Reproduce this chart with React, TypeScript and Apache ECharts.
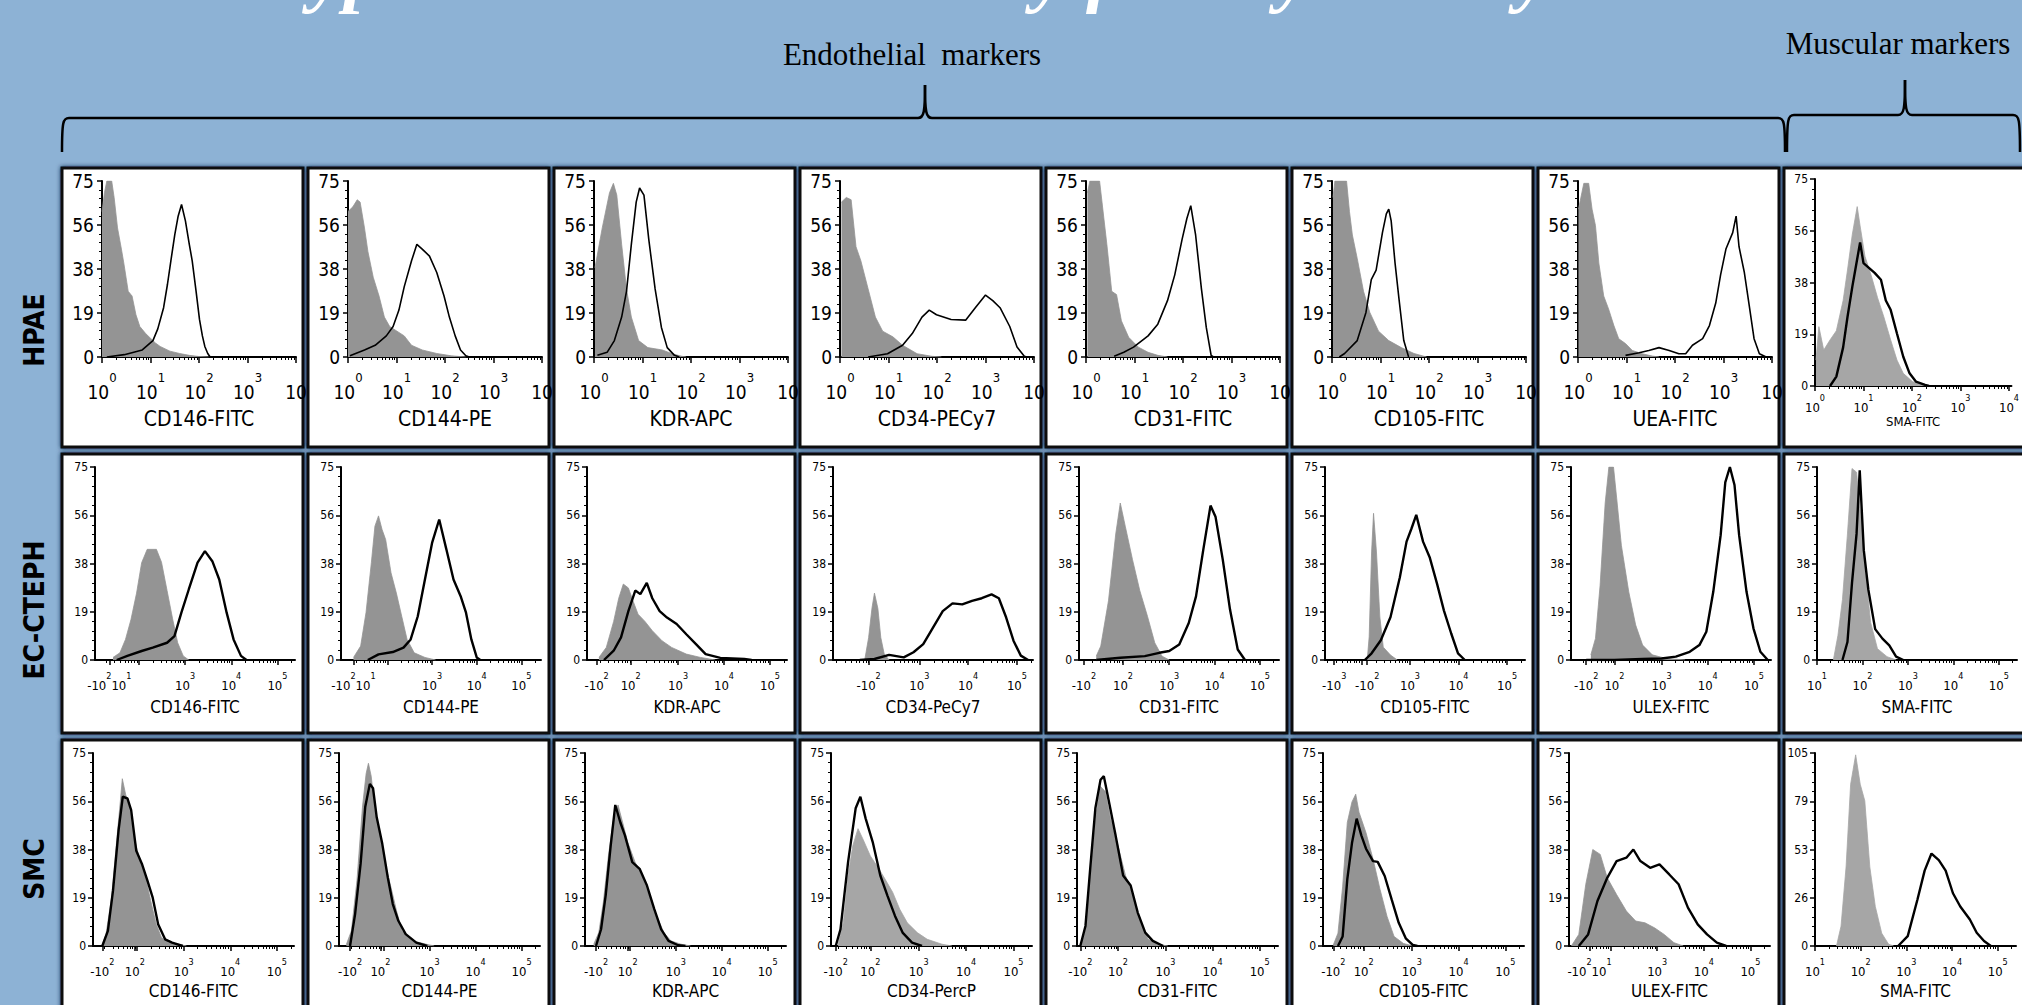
import React, { useEffect, useRef } from 'react';
import * as echarts from 'echarts';

// ---------------- texts ----------------
const figTitle = 'Phenotypic characterization by flow cytometry';
const rowNames = ['HPAE', 'EC-CTEPH', 'SMC'];
const groupEndo = 'Endothelial  markers';
const groupMusc = 'Muscular markers';

const titlesHPAE = ['CD146-FITC', 'CD144-PE', 'KDR-APC', 'CD34-PECy7', 'CD31-FITC', 'CD105-FITC', 'UEA-FITC', 'SMA-FITC'];
const titlesCTEPH = ['CD146-FITC', 'CD144-PE', 'KDR-APC', 'CD34-PeCy7', 'CD31-FITC', 'CD105-FITC', 'ULEX-FITC', 'SMA-FITC'];
const titlesSMC = ['CD146-FITC', 'CD144-PE', 'KDR-APC', 'CD34-PercP', 'CD31-FITC', 'CD105-FITC', 'ULEX-FITC', 'SMA-FITC'];

// ---------------- axes ----------------
// [position (display decades), base, exponent, base, exponent, ...]
type Lab = [number, ...string[]];
const labLog0: Lab[] = [[0, '10', '0'], [1, '10', '1'], [2, '10', '2'], [3, '10', '3'], [4, '10', '']];
const labLog0Sma: Lab[] = [[0, '10', '0'], [1, '10', '1'], [2, '10', '2'], [3, '10', '3'], [4, '10', '4']];
const labLog1: Lab[] = [[1, '10', '1'], [2, '10', '2'], [3, '10', '3'], [4, '10', '4'], [5, '10', '5']];
const labHigh: Lab[] = [[3, '10', '3'], [4, '10', '4'], [5, '10', '5']];

const labelsHPAE: Lab[][] = [labLog0, labLog0, labLog0, labLog0, labLog0, labLog0, labLog0, labLog0Sma];
const labelsCTEPH: Lab[][] = [
  [[1.36, '-10', '2', '10', '1'], ...labHigh],
  [[1.24, '-10', '2', '10', '1'], ...labHigh],
  [[1.23, '-10', '2'], [1.97, '10', '2'], ...labHigh],
  [[1.96, '-10', '2'], ...labHigh],
  [[1.12, '-10', '2'], [1.98, '10', '2'], ...labHigh],
  [[1.44, '-10', '3'], [2.12, '-10', '2'], ...labHigh],
  [[1.37, '-10', '2'], [1.98, '10', '2'], ...labHigh],
  labLog1,
];
const labelsSMC: Lab[][] = [
  [[1.25, '-10', '2'], [1.95, '10', '2'], ...labHigh],
  [[1.27, '-10', '2'], [1.93, '10', '2'], ...labHigh],
  [[1.26, '-10', '2'], [1.95, '10', '2'], ...labHigh],
  [[1.25, '-10', '2'], [1.98, '10', '2'], ...labHigh],
  [[1.19, '-10', '2'], [1.99, '10', '2'], ...labHigh],
  [[1.32, '-10', '2'], [1.97, '10', '2'], ...labHigh],
  [[1.55, '-10', '2', '10', '1'], ...labHigh],
  labLog1,
];

const xRangeHPAE = [[0, 4], [0, 4], [0, 4], [0, 4], [0, 4], [0, 4], [0, 4], [0, 4.05]];
const xRangeCTEPH = [[1.05, 5.38], [0.96, 5.44], [1.02, 5.37], [1.23, 5.33], [1.01, 5.42], [1.25, 5.37], [1.04, 5.37], [1, 5.4]];
const xRangeSMC = [[1.05, 5.37], [1.03, 5.4], [1.02, 5.4], [1.15, 5.39], [1.12, 5.39], [1.1, 5.4], [1.11, 5.42], [1, 5.4]];

const yMaxHPAE = [75, 75, 75, 75, 75, 75, 75, 75];
const yMaxCTEPH = [75, 75, 75, 75, 75, 75, 75, 75];
const yMaxSMC = [75, 75, 75, 75, 75, 75, 75, 105];

// ---------------- histograms: [display decade, count] ----------------
type P = [number, number];
// HPAE — grey = isotype control, black = marker
const gH1: P[] = [[0, 62], [0.05, 70], [0.1, 75], [0.2, 75], [0.25, 68], [0.32, 55], [0.4, 46], [0.45, 40], [0.54, 28], [0.62, 26], [0.7, 18], [0.78, 13], [0.9, 10], [1.0, 8], [1.1, 6], [1.2, 4.5], [1.4, 2.5], [1.6, 1.5], [1.8, 0.7], [2.0, 0.2], [2.2, 0]];
const bH1: P[] = [[0.1, 0], [0.46, 1], [0.83, 3], [1.05, 7], [1.15, 12], [1.27, 21], [1.35, 31], [1.42, 41], [1.5, 52], [1.57, 60], [1.64, 65], [1.72, 58], [1.8, 48], [1.86, 41], [1.94, 28], [2.01, 16], [2.07, 9], [2.12, 4.5], [2.18, 1.5], [2.23, 0]];
const gH2: P[] = [[0, 62], [0.1, 64], [0.19, 67], [0.25, 66], [0.34, 55], [0.41, 45], [0.52, 34], [0.64, 26], [0.75, 17], [0.86, 13], [1.01, 11], [1.16, 9], [1.31, 5], [1.53, 3], [1.83, 1.5], [2.13, 0.5], [2.43, 0]];
const bH2: P[] = [[0.04, 0.5], [0.34, 3], [0.56, 5], [0.79, 9], [0.93, 13], [1.05, 20], [1.16, 30], [1.31, 41], [1.42, 48], [1.53, 46], [1.68, 43], [1.83, 36], [1.98, 26], [2.09, 17], [2.21, 9], [2.32, 3], [2.43, 0.5], [2.5, 0]];
const gH3: P[] = [[0.02, 38], [0.17, 55], [0.32, 70], [0.4, 74], [0.47, 69], [0.57, 48], [0.67, 29], [0.77, 17], [0.92, 7], [1.11, 4], [1.41, 3], [1.61, 1.4], [1.81, 0.3], [1.9, 0]];
const bH3: P[] = [[0.07, 0.7], [0.27, 2], [0.42, 7], [0.57, 17], [0.67, 28], [0.77, 48], [0.87, 66], [0.94, 72], [1.03, 69], [1.13, 50], [1.26, 29], [1.39, 12.6], [1.51, 4], [1.66, 0.7], [1.76, 0]];
const gH4: P[] = [[0.03, 66], [0.13, 68], [0.23, 67], [0.33, 47], [0.43, 41], [0.58, 29], [0.73, 17], [0.88, 11], [1.09, 8.6], [1.29, 5], [1.59, 1.4], [1.89, 0.3], [2.09, 0]];
const bH4: P[] = [[0.58, 0], [0.98, 1.4], [1.29, 5], [1.49, 10], [1.69, 17], [1.84, 20], [1.99, 18], [2.29, 16], [2.59, 15.7], [2.79, 21], [3.0, 26.4], [3.15, 24], [3.3, 21], [3.5, 13], [3.65, 4.3], [3.8, 0.3], [3.85, 0]];
const gH5: P[] = [[0.03, 70], [0.08, 75], [0.28, 75], [0.33, 66], [0.43, 48], [0.53, 28], [0.63, 26.6], [0.73, 15.4], [0.88, 8.4], [1.08, 4.2], [1.28, 2], [1.48, 0.7], [1.68, 0]];
const bH5: P[] = [[0.58, 0.3], [0.78, 2], [0.98, 4.2], [1.28, 9], [1.48, 14], [1.68, 24], [1.83, 35], [1.98, 50], [2.08, 59], [2.16, 64.5], [2.26, 52], [2.38, 29], [2.48, 12.6], [2.58, 0.7], [2.63, 0]];
const gH6: P[] = [[0.02, 68], [0.06, 75], [0.3, 75], [0.36, 62], [0.42, 52], [0.52, 42], [0.65, 28], [0.78, 19], [0.96, 11], [1.17, 7], [1.43, 4], [1.69, 1.5], [1.95, 0]];
const bH6: P[] = [[0.15, 0], [0.26, 1.5], [0.52, 7], [0.7, 19], [0.81, 33], [0.91, 37], [1.04, 53], [1.12, 61], [1.17, 63], [1.22, 58], [1.3, 40], [1.38, 25], [1.48, 7], [1.58, 0]];
const gH7: P[] = [[0.01, 63], [0.12, 74], [0.22, 74], [0.29, 63], [0.36, 56], [0.43, 40], [0.53, 26], [0.63, 20.5], [0.74, 13.4], [0.84, 7.8], [0.98, 5.7], [1.12, 2.8], [1.32, 1.4], [1.53, 0.4], [1.67, 0]];
const bH7: P[] = [[0.98, 0.7], [1.26, 1.8], [1.46, 2.8], [1.67, 4], [1.88, 2.8], [2.08, 1.4], [2.22, 1.4], [2.36, 5], [2.57, 7.8], [2.71, 13.4], [2.84, 23], [2.94, 35], [3.05, 46], [3.19, 53], [3.26, 60], [3.32, 47], [3.43, 36], [3.53, 22], [3.63, 7.8], [3.74, 1.4], [3.88, 0]];
const gH8: P[] = [[0.02, 9.4], [0.08, 21.5], [0.18, 13], [0.31, 16.7], [0.44, 20], [0.58, 31], [0.67, 42], [0.77, 55], [0.87, 65], [0.93, 58], [1.03, 47], [1.16, 40], [1.29, 32], [1.42, 25], [1.56, 16.7], [1.69, 9.4], [1.82, 4.6], [2.01, 1.6], [2.21, 0.4], [2.34, 0]];
const bH8: P[] = [[0.31, 0], [0.44, 3.4], [0.58, 14], [0.67, 25], [0.77, 36], [0.87, 46], [0.93, 52], [1.0, 44.5], [1.1, 43], [1.23, 41], [1.36, 38.5], [1.46, 31], [1.56, 27.6], [1.69, 19], [1.82, 10.6], [1.95, 4.6], [2.08, 1.6], [2.27, 0.4], [2.35, 0]];

// EC-CTEPH
const gC1: P[] = [[1.44, 1], [1.59, 2.8], [1.71, 8], [1.83, 15.8], [1.95, 26], [2.06, 37.8], [2.18, 43], [2.38, 43], [2.49, 38], [2.61, 27], [2.73, 16], [2.84, 6.7], [2.96, 1.6], [3.08, 0]];
const bC1: P[] = [[1.52, 0], [1.75, 1.6], [2.06, 3.5], [2.3, 4.8], [2.61, 6.7], [2.77, 9.3], [2.92, 18.4], [3.08, 27.4], [3.27, 37.8], [3.43, 42.3], [3.59, 38.4], [3.74, 31.3], [3.9, 18.4], [4.05, 8], [4.21, 1.6], [4.33, 0]];
const gC2: P[] = [[1.24, 1], [1.4, 5.4], [1.52, 18.4], [1.64, 37.8], [1.72, 52], [1.8, 56], [1.88, 50.7], [1.96, 46.8], [2.08, 33.9], [2.2, 26], [2.32, 17], [2.44, 8], [2.6, 2.8], [2.84, 1], [3.08, 0]];
const bC2: P[] = [[1.56, 0], [1.8, 2.2], [2.12, 3.1], [2.36, 4.8], [2.52, 8], [2.68, 17], [2.84, 31.3], [3.0, 45.5], [3.16, 54.6], [3.32, 43], [3.48, 31.3], [3.64, 24.8], [3.76, 18.4], [3.88, 8], [4.0, 1], [4.08, 0]];
const gC3: P[] = [[1.28, 1], [1.44, 4.9], [1.6, 15], [1.71, 24], [1.81, 29.5], [1.92, 28], [2.02, 23], [2.13, 17.8], [2.28, 15], [2.44, 11.4], [2.65, 7.5], [2.86, 4.9], [3.18, 2.3], [3.49, 1], [3.81, 0]];
const bC3: P[] = [[1.39, 0], [1.6, 3.6], [1.76, 8.8], [1.92, 19], [2.07, 27], [2.18, 25.6], [2.32, 30], [2.44, 24], [2.6, 19], [2.76, 16.5], [2.97, 14], [3.18, 10], [3.39, 6.2], [3.6, 2.3], [3.92, 0.8], [4.44, 0.4], [4.6, 0]];
const gC4: P[] = [[1.88, 0], [1.96, 8.7], [2.03, 20.3], [2.08, 26], [2.15, 20], [2.21, 8.7], [2.28, 2.3], [2.38, 0]];
const bC4: P[] = [[1.78, 0], [2.08, 0.4], [2.38, 2], [2.68, 1], [2.88, 3], [3.08, 6.2], [3.28, 12.6], [3.48, 19], [3.68, 22], [3.88, 21.6], [4.08, 23], [4.28, 24], [4.48, 25.5], [4.63, 24], [4.78, 16.5], [4.93, 7.5], [5.08, 1.7], [5.23, 0]];
const gC5: P[] = [[1.39, 1.5], [1.49, 5.4], [1.66, 23], [1.82, 49], [1.92, 61], [2.03, 52], [2.19, 39], [2.35, 27], [2.52, 17], [2.68, 6.7], [2.84, 1.5], [3.0, 0]];
const bC5: P[] = [[1.39, 0], [1.92, 0.9], [2.46, 1.5], [2.78, 2.8], [3.0, 3.5], [3.22, 6], [3.43, 14.4], [3.59, 24.7], [3.75, 42.8], [3.91, 60], [4.02, 55.7], [4.18, 39], [4.34, 19.6], [4.51, 4.1], [4.67, 0]];
const gC6: P[] = [[2.12, 0], [2.16, 9], [2.21, 42], [2.25, 57], [2.31, 42], [2.38, 16.7], [2.45, 5], [2.6, 1.9], [2.74, 0]];
const bC6: P[] = [[2.07, 0], [2.21, 2.6], [2.4, 7.7], [2.6, 16.7], [2.79, 32], [2.93, 46], [3.03, 51], [3.13, 56.4], [3.27, 46], [3.41, 39.7], [3.56, 29.5], [3.7, 19.2], [3.85, 10.3], [3.99, 2.6], [4.13, 0]];
const gC7: P[] = [[1.47, 2], [1.57, 8.4], [1.67, 29], [1.78, 61], [1.86, 75], [1.96, 75], [2.03, 62.7], [2.13, 44.6], [2.29, 26.5], [2.44, 13.6], [2.59, 5.8], [2.8, 2], [3.1, 0.6], [3.51, 0]];
const bC7: P[] = [[1.37, 0], [1.98, 0], [2.59, 0.4], [3.0, 0.6], [3.31, 1.3], [3.61, 3.2], [3.82, 5.8], [3.97, 11], [4.12, 26.5], [4.28, 48.5], [4.38, 69], [4.48, 75], [4.58, 68], [4.68, 48.5], [4.84, 26.5], [4.99, 12.3], [5.14, 3.2], [5.3, 0]];
const gC8: P[] = [[1.36, 0], [1.46, 9.5], [1.56, 23.5], [1.67, 49], [1.77, 74.4], [1.87, 73], [1.97, 55], [2.08, 32], [2.18, 14.6], [2.33, 4.4], [2.54, 1.3], [2.74, 0]];
const bC8: P[] = [[1.56, 0], [1.67, 7], [1.77, 30], [1.87, 49], [1.94, 73.7], [2.03, 42.6], [2.13, 27.3], [2.28, 12], [2.44, 8.3], [2.59, 5.7], [2.74, 1.3], [2.9, 0]];

// SMC
const gS1: P[] = [[1.25, 0.6], [1.33, 4.6], [1.45, 19], [1.56, 41], [1.64, 56.7], [1.68, 65], [1.75, 59], [1.83, 54], [1.95, 41], [2.06, 33], [2.18, 26.7], [2.29, 17.6], [2.41, 8.5], [2.52, 3.3], [2.68, 1.3], [2.91, 0.6], [3.06, 0]];
const bS1: P[] = [[1.25, 0], [1.37, 5.9], [1.48, 21.5], [1.6, 45], [1.69, 58], [1.79, 57.4], [1.87, 52.8], [1.98, 37], [2.1, 32], [2.22, 25.4], [2.33, 19], [2.45, 8.5], [2.6, 2.6], [2.75, 1.3], [2.98, 0]];
const gS2: P[] = [[1.19, 0.6], [1.3, 5.9], [1.42, 25.4], [1.54, 54], [1.62, 67], [1.67, 71], [1.73, 66], [1.81, 52.8], [1.93, 42.4], [2.05, 30.7], [2.16, 22.8], [2.28, 13.7], [2.4, 5.9], [2.63, 2], [2.95, 0.6], [3.1, 0]];
const bS2: P[] = [[1.27, 0], [1.38, 12.4], [1.5, 32], [1.6, 54], [1.7, 63], [1.77, 61.3], [1.85, 50], [1.97, 39.8], [2.09, 26.7], [2.2, 16.3], [2.32, 9.8], [2.48, 4.6], [2.71, 1.3], [2.95, 0]];
const gS3: P[] = [[1.21, 0.7], [1.32, 5.2], [1.42, 17], [1.53, 35], [1.63, 48], [1.74, 54.8], [1.84, 48], [1.95, 40.4], [2.11, 32.6], [2.26, 27.4], [2.42, 19.6], [2.58, 11.7], [2.74, 5.2], [2.89, 2], [3.11, 0.7], [3.32, 0]];
const bS3: P[] = [[1.26, 0], [1.37, 6.5], [1.47, 19.6], [1.58, 39], [1.68, 54.8], [1.79, 48], [1.89, 43], [2.05, 32.6], [2.21, 30], [2.37, 23.5], [2.53, 14.3], [2.68, 6.5], [2.84, 2], [3.05, 0.3], [3.21, 0]];
const gS4: P[] = [[1.3, 0.7], [1.41, 9], [1.51, 27.4], [1.61, 39], [1.72, 45.6], [1.82, 41.7], [1.98, 35], [2.14, 30.6], [2.29, 26], [2.45, 20.9], [2.6, 14.3], [2.76, 9], [2.97, 5.2], [3.18, 2.6], [3.49, 0.7], [3.7, 0]];
const bS4: P[] = [[1.25, 0], [1.35, 6.5], [1.51, 32.6], [1.67, 53.5], [1.77, 58], [1.88, 49.6], [2.03, 40.4], [2.19, 27.4], [2.34, 19.6], [2.5, 11.7], [2.66, 5.2], [2.86, 1.3], [3.07, 0]];
const gS5: P[] = [[1.19, 0], [1.3, 6.5], [1.4, 27.4], [1.51, 49.6], [1.62, 62], [1.72, 60], [1.83, 49.6], [1.99, 39], [2.15, 27.4], [2.31, 19.6], [2.47, 9], [2.63, 2.6], [2.84, 0.7], [3.05, 0]];
const bS5: P[] = [[1.19, 0], [1.3, 7.8], [1.4, 30], [1.51, 53.5], [1.62, 64.6], [1.69, 66], [1.8, 56], [1.94, 43], [2.1, 27.4], [2.26, 23.5], [2.41, 13], [2.57, 5.2], [2.73, 2], [2.95, 0]];
const gS6: P[] = [[1.32, 0.4], [1.42, 5], [1.52, 23], [1.62, 48], [1.72, 56], [1.8, 59], [1.87, 52], [2.02, 44], [2.17, 33.8], [2.32, 22], [2.47, 11.5], [2.62, 3.7], [2.82, 1], [3.02, 0]];
const bS6: P[] = [[1.42, 0], [1.52, 3.7], [1.62, 26], [1.72, 40], [1.82, 49.5], [1.92, 43], [2.02, 37.8], [2.17, 33], [2.27, 32.7], [2.42, 27.2], [2.57, 18], [2.72, 9], [2.87, 3], [3.02, 0.4], [3.12, 0]];
const gS7: P[] = [[1.16, 0], [1.32, 4.5], [1.47, 24], [1.62, 37.5], [1.78, 35.6], [1.93, 26.5], [2.13, 20], [2.34, 13.6], [2.54, 9.7], [2.74, 9], [2.95, 7], [3.15, 4.5], [3.36, 1.3], [3.56, 0]];
const bS7: P[] = [[1.32, 0], [1.52, 4.5], [1.72, 17.5], [1.93, 26.5], [2.13, 33], [2.34, 34.3], [2.49, 37.5], [2.64, 33], [2.85, 30.4], [3.05, 31.7], [3.26, 27.8], [3.46, 24], [3.66, 14.9], [3.87, 8.4], [4.07, 4.5], [4.28, 1.3], [4.48, 0]];
const gS8: P[] = [[1.47, 0], [1.57, 10.8], [1.68, 43], [1.78, 88], [1.89, 104], [1.99, 88], [2.09, 79], [2.2, 43], [2.32, 21.5], [2.46, 7], [2.61, 1], [2.72, 0]];
const bS8: P[] = [[2.82, 0], [3.03, 5.4], [3.24, 25], [3.4, 41], [3.55, 50.3], [3.71, 46.7], [3.86, 41], [4.02, 28.7], [4.18, 21.5], [4.39, 14.4], [4.54, 7.2], [4.7, 2.7], [4.85, 0]];

const greyHPAE = [gH1, gH2, gH3, gH4, gH5, gH6, gH7, gH8];
const blackHPAE = [bH1, bH2, bH3, bH4, bH5, bH6, bH7, bH8];
const greyCTEPH = [gC1, gC2, gC3, gC4, gC5, gC6, gC7, gC8];
const blackCTEPH = [bC1, bC2, bC3, bC4, bC5, bC6, bC7, bC8];
const greySMC = [gS1, gS2, gS3, gS4, gS5, gS6, gS7, gS8];
const blackSMC = [bS1, bS2, bS3, bS4, bS5, bS6, bS7, bS8];

// ---------------- styling / layout ----------------
const BG = '#8db2d5';
const GREY = '#949494';
const GREY_LIGHT = '#a6a6a6';
const FONT = "'Liberation Sans Narrow','Arial Narrow','DejaVu Sans Condensed','Liberation Sans',Arial,sans-serif";
const SERIF = "'Liberation Serif','Times New Roman',serif";
const ROW_TOP = [168, 454, 740];
const PANEL_W = 241;
const PANEL_H = 279;
const colLeft = (c: number) => 62 + 246 * c;

function layout(r: number, c: number) {
  const L = colLeft(c);
  const T = ROW_TOP[r];
  if (r === 0 && c < 7) return { L, T, gl: L + 40, gr: L + 234, gt: T + 13, gb: T + 189, big: true };
  if (r === 0) return { L, T, gl: L + 31, gr: L + 237, gt: T + 11, gb: T + 218, big: false };
  if (r === 1) return { L, T, gl: L + 33, gr: L + 233, gt: T + 13, gb: T + 206, big: false };
  return { L, T, gl: L + 31, gr: L + 232, gt: T + 13, gb: T + 206, big: false };
}

function minorTicks(xmin: number, xmax: number, d0: number) {
  const out: number[] = [];
  for (let d = d0; d <= 5; d++) {
    for (let k = 2; k <= 9; k++) {
      const v = d + Math.log10(k);
      if (v > xmin + 0.01 && v < xmax - 0.01) out.push(v);
    }
  }
  return out;
}

function buildOption() {
  const grids: any[] = [];
  const xAxes: any[] = [];
  const yAxes: any[] = [];
  const series: any[] = [];
  const graphics: any[] = [];

  const titles = [titlesHPAE, titlesCTEPH, titlesSMC];
  const labels = [labelsHPAE, labelsCTEPH, labelsSMC];
  const ranges = [xRangeHPAE, xRangeCTEPH, xRangeSMC];
  const ymaxes = [yMaxHPAE, yMaxCTEPH, yMaxSMC];
  const greys = [greyHPAE, greyCTEPH, greySMC];
  const blacks = [blackHPAE, blackCTEPH, blackSMC];

  for (let r = 0; r < 3; r++) {
    for (let c = 0; c < 8; c++) {
      const i = r * 8 + c;
      const lay = layout(r, c);
      const big = lay.big;
      const smaTop = r === 0 && c === 7;
      graphics.push({
        type: 'rect', z: -10,
        shape: { x: lay.L, y: lay.T, width: PANEL_W, height: r === 2 ? 300 : PANEL_H },
        style: { fill: '#ffffff', stroke: '#0c0c0c', lineWidth: 3, shadowBlur: 4, shadowColor: 'rgba(15,35,70,0.9)' },
      });
      grids.push({ left: lay.gl, top: lay.gt, width: lay.gr - lay.gl, height: lay.gb - lay.gt });
      const [xmin, xmax] = ranges[r][c];
      const labs = labels[r][c];
      const labVals = labs.map((l) => l[0] as number);
      const majors = [...labVals];
      for (let d = Math.ceil(xmin); d <= Math.floor(xmax); d++) {
        if ((r === 0 || d >= 2) && !majors.some((m) => Math.abs(m - d) < 0.05)) majors.push(d);
      }
      const minors = minorTicks(xmin, xmax, r === 0 ? 0 : 1);
      const bs = big ? 19 : 13;
      const ss = big ? 13 : 9;
      const fmt = (v: number) => {
        const l = labs.find((t) => Math.abs((t[0] as number) - v) < 1e-6);
        if (!l) return '';
        const parts = l.slice(1) as string[];
        let out = '';
        for (let k = 0; k < parts.length; k += 2) {
          out += `{b|${parts[k]}}`;
          if (parts[k + 1]) out += `{s|${parts[k + 1]}}`;
        }
        return out;
      };
      xAxes.push({
        gridIndex: i, type: 'value', min: xmin, max: xmax, position: 'bottom',
        axisLine: { show: true, onZero: false, lineStyle: { color: '#000', width: 2 } },
        axisTick: { show: true, customValues: majors, length: big ? 6 : 5, lineStyle: { color: '#000', width: 1.5 } },
        axisLabel: {
          customValues: labVals, formatter: fmt, margin: big ? 14 : smaTop ? 7 : 11, color: '#000', hideOverlap: false,
          rich: {
            b: { fontSize: bs, fontFamily: FONT, color: '#000', lineHeight: Math.round(bs * 1.6), verticalAlign: 'bottom' },
            s: { fontSize: ss, fontFamily: FONT, color: '#000', lineHeight: ss, verticalAlign: 'top' },
          },
        },
        splitLine: { show: false },
        name: titles[r][c], nameLocation: 'middle', nameGap: big ? 51 : smaTop ? 29 : r === 1 ? 38 : 36,
        nameTextStyle: { fontSize: big ? 21 : smaTop ? 13 : 17, fontFamily: FONT, color: '#000' },
      });
      xAxes.push({
        gridIndex: i, type: 'value', min: xmin, max: xmax, position: 'bottom',
        axisLine: { show: false },
        axisTick: { show: true, customValues: minors, length: 3, lineStyle: { color: '#000', width: 1 } },
        axisLabel: { show: false },
        splitLine: { show: false },
      });
      const ym = ymaxes[r][c];
      yAxes.push({
        gridIndex: i, type: 'value', min: 0, max: ym, interval: ym / 4,
        axisLine: { show: true, onZero: false, lineStyle: { color: '#000', width: 2 } },
        axisTick: { show: true, length: 5, lineStyle: { color: '#000', width: 1.5 } },
        minorTick: { show: true, splitNumber: 5, length: 3, lineStyle: { color: '#000', width: 1 } },
        axisLabel: { formatter: (v: number) => String(Math.round(v)), fontSize: big ? 19 : 12, fontFamily: FONT, color: '#000', margin: big ? 8 : 7 },
        splitLine: { show: false },
        minorSplitLine: { show: false },
      });
      const gcol = (c === 7 || (r === 2 && c === 3)) ? GREY_LIGHT : GREY;
      series.push({
        type: 'line', xAxisIndex: 2 * i, yAxisIndex: i, data: greys[r][c], symbol: 'none', silent: true,
        lineStyle: { color: gcol, width: 0.8 }, areaStyle: { color: gcol, opacity: 1 }, z: 2,
      });
      series.push({
        type: 'line', xAxisIndex: 2 * i, yAxisIndex: i, data: blacks[r][c], symbol: 'none', silent: true,
        lineStyle: { color: '#000', width: big ? 1.6 : 2.4 }, z: 3,
      });
    }
  }

  // row labels
  const rowY = [330, 610, 869];
  rowNames.forEach((n, k) => {
    graphics.push({
      type: 'text', x: 34, y: rowY[k], rotation: Math.PI / 2, z: 10,
      style: { text: n, fontSize: 28, fontWeight: 'bold', fontFamily: FONT, fill: '#000', align: 'center', verticalAlign: 'middle' },
    });
  });

  // group labels
  graphics.push({ type: 'text', x: 912, y: 54, z: 10, style: { text: groupEndo, fontSize: 31, fontFamily: SERIF, fill: '#000', align: 'center', verticalAlign: 'middle' } });
  graphics.push({ type: 'text', x: 1898, y: 43, z: 10, style: { text: groupMusc, fontSize: 31, fontFamily: SERIF, fill: '#000', align: 'center', verticalAlign: 'middle' } });
  // title (cut by page top, as in the reference)
  graphics.push({ type: 'text', x: 83, y: -28, z: 10, style: { text: figTitle, fontSize: 77, fontStyle: 'italic', fontWeight: 'bold', fontFamily: SERIF, fill: '#ffffff', align: 'left', verticalAlign: 'middle' } });

  // braces
  const bst = { stroke: '#000', lineWidth: 2.5, fill: 'none' };
  const brace = (x1: number, x2: number, xm: number, yh: number, ytip: number, ytail: number) => {
    const arr: any[] = [];
    const a = x1 + 7, b = x2 - 7;
    arr.push({ type: 'bezierCurve', z: 10, shape: { x1: x1, y1: ytail, cpx1: x1, cpy1: yh + 4, cpx2: x1 + 1, cpy2: yh, x2: a, y2: yh }, style: bst });
    arr.push({ type: 'line', z: 10, shape: { x1: a, y1: yh, x2: xm - 7, y2: yh }, style: bst });
    arr.push({ type: 'bezierCurve', z: 10, shape: { x1: xm - 7, y1: yh, cpx1: xm - 1, cpy1: yh, cpx2: xm, cpy2: yh - 6, x2: xm, y2: ytip }, style: bst });
    arr.push({ type: 'bezierCurve', z: 10, shape: { x1: xm, y1: ytip, cpx1: xm, cpy1: yh - 6, cpx2: xm + 1, cpy2: yh, x2: xm + 7, y2: yh }, style: bst });
    arr.push({ type: 'line', z: 10, shape: { x1: xm + 7, y1: yh, x2: b, y2: yh }, style: bst });
    arr.push({ type: 'bezierCurve', z: 10, shape: { x1: b, y1: yh, cpx1: x2 - 1, cpy1: yh, cpx2: x2, cpy2: yh + 4, x2: x2, y2: ytail }, style: bst });
    return arr;
  };
  graphics.push(...brace(62, 1785, 925, 118, 85, 152));
  graphics.push(...brace(1787, 2020, 1905, 115, 80, 152));

  return {
    animation: false,
    backgroundColor: BG,
    grid: grids,
    xAxis: xAxes,
    yAxis: yAxes,
    series,
    graphic: graphics,
  };
}

export default function App() {
  const ref = useRef<HTMLDivElement>(null);
  useEffect(() => {
    const chart = echarts.init(ref.current!, null, { renderer: 'svg', width: 2022, height: 1005 });
    chart.setOption(buildOption() as any);
    return () => chart.dispose();
  }, []);
  return <div ref={ref} style={{ position: 'absolute', left: 0, top: 0, width: 2022, height: 1005, background: BG }} />;
}
